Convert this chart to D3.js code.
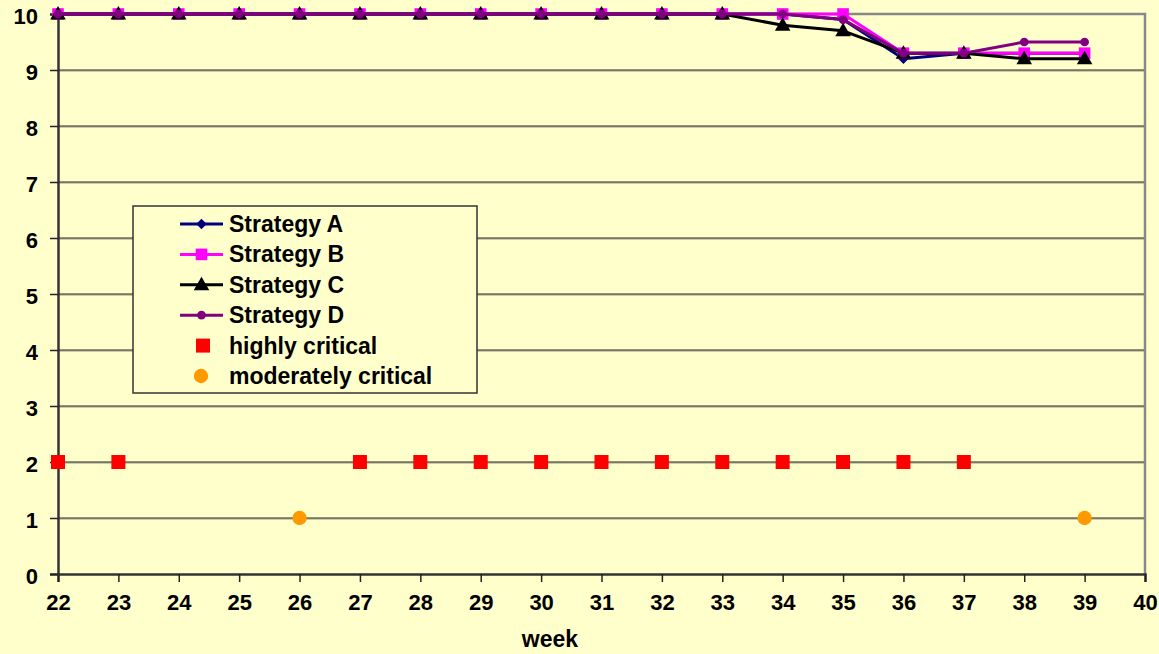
<!DOCTYPE html>
<html>
<head>
<meta charset="utf-8">
<script src="https://cdn.jsdelivr.net/npm/d3@7"></script>
<style>
  html, body { margin: 0; padding: 0; background: #FFFFCC; }
  svg { display: block; }
  text { font-family: "Liberation Sans", Arial, sans-serif; font-weight: bold; fill: #000; }
</style>
</head>
<body>
<svg id="chart" width="1159" height="654"></svg>
<script>
// Weeks on the x axis
const weeks = [22, 23, 24, 25, 26, 27, 28, 29, 30, 31, 32, 33, 34, 35, 36, 37, 38, 39];

// Strategy scores per week
const strategyA = [10, 10, 10, 10, 10, 10, 10, 10, 10, 10, 10, 10, 10, 9.9, 9.2, 9.3, 9.3, 9.3];
const strategyB = [10, 10, 10, 10, 10, 10, 10, 10, 10, 10, 10, 10, 10, 10, 9.3, 9.3, 9.3, 9.3];
const strategyC = [10, 10, 10, 10, 10, 10, 10, 10, 10, 10, 10, 10, 9.8, 9.7, 9.3, 9.3, 9.2, 9.2];
const strategyD = [10, 10, 10, 10, 10, 10, 10, 10, 10, 10, 10, 10, 10, 9.9, 9.3, 9.3, 9.5, 9.5];

// Criticality markers
const highlyCriticalWeeks = [22, 23, 27, 28, 29, 30, 31, 32, 33, 34, 35, 36, 37];
const highlyCriticalValue = 2;
const moderatelyCriticalWeeks = [26, 39];
const moderatelyCriticalValue = 1;

// Axis ticks
const xTicks = [22, 23, 24, 25, 26, 27, 28, 29, 30, 31, 32, 33, 34, 35, 36, 37, 38, 39, 40];
const yTicks = [0, 1, 2, 3, 4, 5, 6, 7, 8, 9, 10];

const svg = d3.select("#chart");
const x = d3.scaleLinear().domain([22, 40]).range([58, 1145]);
const y = d3.scaleLinear().domain([0, 10]).range([574, 14]);

svg.append("rect").attr("width", 1159).attr("height", 654).attr("fill", "#FFFFCC");

// Gridlines
const grid = svg.append("g");
grid.selectAll("line.g2").data(yTicks.filter(d => d > 0 && d < 10)).join("line")
  .attr("x1", x(22)).attr("x2", x(40))
  .attr("y1", d => y(d) + 1).attr("y2", d => y(d) + 1)
  .attr("stroke", "#9a9a80").attr("stroke-width", 1);
grid.selectAll("line.g1").data(yTicks.filter(d => d > 0 && d < 10)).join("line")
  .attr("x1", x(22)).attr("x2", x(40))
  .attr("y1", d => y(d)).attr("y2", d => y(d))
  .attr("stroke", "#222").attr("stroke-width", 1);

// Plot frame (top and right)
svg.append("path")
  .attr("d", `M${x(22)},${y(10)}H${x(40)}V${y(0)}`)
  .attr("fill", "none").attr("stroke", "#888").attr("stroke-width", 2.5);

// Axes
const xAxis = d3.axisBottom(x).tickValues(xTicks).tickSize(8).tickPadding(12).tickFormat(d3.format("d"));
const yAxis = d3.axisLeft(y).tickValues(yTicks).tickSize(8).tickPadding(12).tickFormat(d3.format("d"));

const gx = svg.append("g").attr("transform", `translate(0,${y(0)})`).call(xAxis);
const gy = svg.append("g").attr("transform", `translate(${x(22)},0)`).call(yAxis);
[gx, gy].forEach(g => {
  g.select(".domain").attr("stroke", "#333").attr("stroke-width", 2.5);
  g.selectAll(".tick line").attr("stroke", "#222").attr("stroke-width", 1.5);
  g.selectAll(".tick text").attr("font-size", 22).attr("font-family", "Liberation Sans, Arial, sans-serif").attr("font-weight", "bold").attr("fill", "#000");
});
gy.selectAll(".tick text").attr("dy", "0.45em");
gx.selectAll(".tick text").attr("dy", "0.72em");

svg.append("text").attr("x", 550).attr("y", 647).attr("text-anchor", "middle")
  .attr("font-size", 23).text("week");

// Marker shapes
const sym = {
  diamond: d3.symbol().type(d3.symbolDiamond2).size(70),
  square: d3.symbol().type(d3.symbolSquare).size(135),
  triangle: d3.symbol().type(d3.symbolTriangle).size(105),
  circle: d3.symbol().type(d3.symbolCircle).size(60)
};

const series = [
  { name: "Strategy A", values: strategyA, color: "#000080", marker: "diamond" },
  { name: "Strategy B", values: strategyB, color: "#FF00FF", marker: "square" },
  { name: "Strategy C", values: strategyC, color: "#000000", marker: "triangle" },
  { name: "Strategy D", values: strategyD, color: "#800080", marker: "circle" }
];

const line = d3.line().x(d => x(d[0])).y(d => y(d[1]));

series.forEach(s => {
  const pts = weeks.map((w, i) => [w, s.values[i]]);
  const g = svg.append("g");
  g.append("path").datum(pts).attr("d", line)
    .attr("fill", "none").attr("stroke", s.color).attr("stroke-width", 3).attr("stroke-linejoin", "round");
  g.selectAll("path.m").data(pts).join("path").attr("class", "m")
    .attr("transform", d => `translate(${x(d[0])},${y(d[1]) + (s.marker === "triangle" ? 1 : 0)})`)
    .attr("d", sym[s.marker]).attr("fill", s.color);
});

// Criticality points
svg.append("g").selectAll("rect").data(highlyCriticalWeeks).join("rect")
  .attr("x", d => x(d) - 7).attr("y", y(highlyCriticalValue) - 7)
  .attr("width", 14).attr("height", 14).attr("fill", "#FF0000");
svg.append("g").selectAll("circle").data(moderatelyCriticalWeeks).join("circle")
  .attr("cx", d => x(d)).attr("cy", y(moderatelyCriticalValue)).attr("r", 7.2)
  .attr("fill", "#FF9900");

// Legend
const legend = svg.append("g");
legend.append("rect").attr("x", 133).attr("y", 206).attr("width", 344).attr("height", 187)
  .attr("fill", "#FFFFCC").attr("stroke", "#333").attr("stroke-width", 1.5);

const rowY = i => 224 + i * 30.4;
series.forEach((s, i) => {
  const cy = rowY(i);
  legend.append("line").attr("x1", 180).attr("x2", 223).attr("y1", cy).attr("y2", cy)
    .attr("stroke", s.color).attr("stroke-width", 3);
  legend.append("path").attr("transform", `translate(201.5,${cy + (s.marker === "triangle" ? 1 : 0)})`)
    .attr("d", sym[s.marker]).attr("fill", s.color);
  legend.append("text").attr("x", 229).attr("y", cy + 8).attr("font-size", 23).text(s.name);
});
{
  const cy = rowY(4);
  legend.append("rect").attr("x", 196).attr("y", cy - 7).attr("width", 14).attr("height", 14).attr("fill", "#FF0000");
  legend.append("text").attr("x", 229).attr("y", cy + 8).attr("font-size", 23).text("highly critical");
}
{
  const cy = rowY(5);
  legend.append("circle").attr("cx", 201).attr("cy", cy).attr("r", 7.2).attr("fill", "#FF9900");
  legend.append("text").attr("x", 229).attr("y", cy + 8).attr("font-size", 23).text("moderately critical");
}
</script>
</body>
</html>
